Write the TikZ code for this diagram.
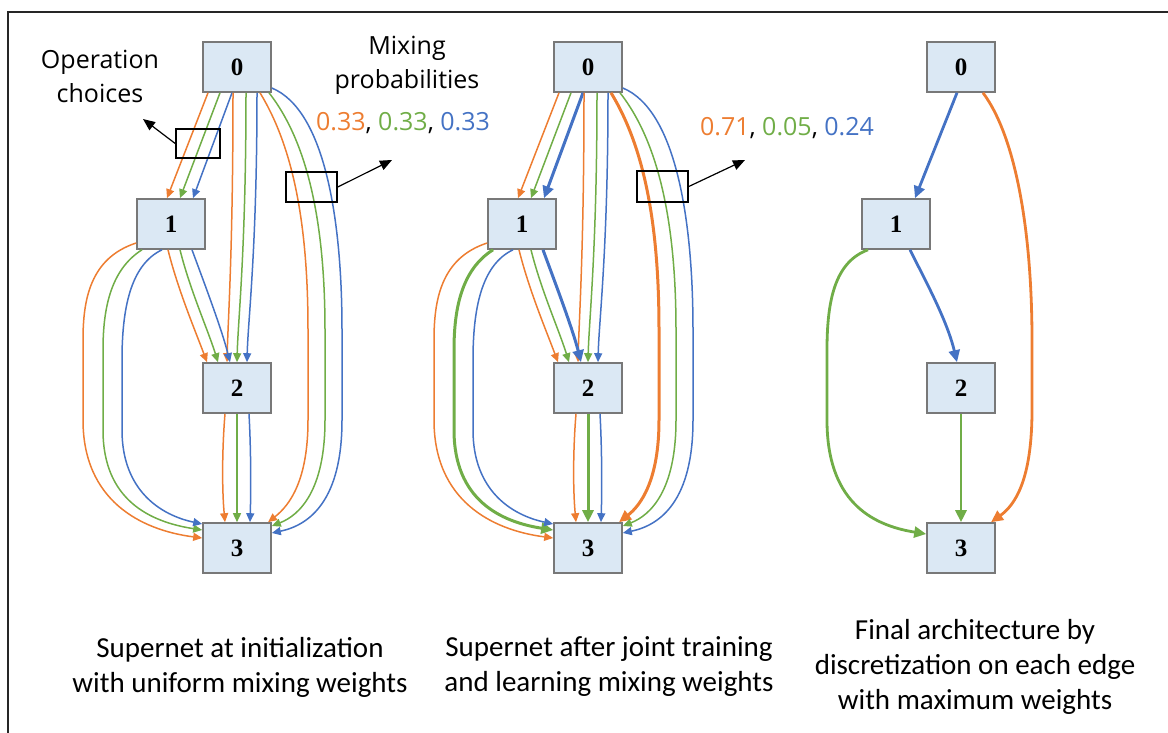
\documentclass[tikz,border=0pt]{standalone}
\usepackage{fontspec}
\setmainfont{Liberation Serif}
\newfontfamily\labelfont{Open Sans}
\newfontfamily\capfont{Carlito}
\usetikzlibrary{arrows.meta}

\definecolor{opO}{RGB}{237,125,49}
\definecolor{opG}{RGB}{112,173,71}
\definecolor{opB}{RGB}{68,114,196}
\definecolor{cellfill}{RGB}{219,232,244}
\definecolor{cellline}{RGB}{120,120,120}

\tikzset{
  cell/.style={draw=cellline, line width=1.6pt, fill=cellfill,
    minimum width=68pt, minimum height=50pt, inner sep=0pt,
    font=\bfseries\fontsize{25}{25}\selectfont},
  thinedge/.style={line width=1.5pt, -{Triangle[length=9pt,width=8pt]}},
  thickedge/.style={line width=3pt, -{Triangle[length=12pt,width=11pt]}},
  finaledge/.style={line width=2.8pt, -{Triangle[length=12pt,width=11pt]}},
  toplabel/.style={align=center, inner sep=0pt,
    font=\labelfont\fontsize{25}{34}\selectfont},
  caption/.style={align=center, inner sep=0pt,
    font=\capfont\fontsize{29}{35}\selectfont},
  callbox/.style={draw=black, line width=1.6pt, inner sep=0pt},
  callarrow/.style={draw=black, line width=1.2pt, -{Triangle[length=12pt,width=10pt]}},
  % per-edge weight hooks (empty by default)
  w01o/.style={}, w01g/.style={}, w01b/.style={},
  w02o/.style={}, w02g/.style={}, w02b/.style={},
  w03o/.style={}, w03g/.style={}, w03b/.style={},
  w12o/.style={}, w12g/.style={}, w12b/.style={},
  w13o/.style={}, w13g/.style={}, w13b/.style={},
  w23o/.style={}, w23g/.style={}, w23b/.style={},
}

% a four-cell supernet with three candidate operations on every edge
\newcommand\supernet[1]{%
  \node[cell] (#10) at (237,67) {0};
  \node[cell] (#11) at (171,224) {1};
  \node[cell] (#12) at (237,388) {2};
  \node[cell] (#13) at (237,548) {3};
  % 0 -> 1
  \draw[thinedge,opO,w01o] ([xshift=-29pt]#10.south) -- ([xshift=-4pt]#11.north);
  \draw[thinedge,opG,w01g] ([xshift=-17pt]#10.south) -- ([xshift=9pt]#11.north);
  \draw[thinedge,opB,w01b] ([xshift=-5pt]#10.south) -- ([xshift=22pt]#11.north);
  % 0 -> 2
  \draw[thinedge,opO,w02o] ([xshift=-4pt]#10.south) .. controls (233,250) and (228,320) .. ([xshift=-10pt]#12.north);
  \draw[thinedge,opG,w02g] ([xshift=9pt]#10.south) .. controls (246,250) and (238,320) .. (#12.north);
  \draw[thinedge,opB,w02b] ([xshift=20pt]#10.south) .. controls (257,250) and (248,320) .. ([xshift=10pt]#12.north);
  % 1 -> 2
  \draw[thinedge,opO,w12o] ([xshift=-3pt]#11.south) .. controls (178,290) and (195,330) .. ([xshift=-30pt]#12.north);
  \draw[thinedge,opG,w12g] ([xshift=9pt]#11.south) .. controls (190,290) and (208,330) .. ([xshift=-19pt]#12.north);
  \draw[thinedge,opB,w12b] ([xshift=21pt]#11.south) .. controls (205,285) and (222,330) .. ([xshift=-7pt]#12.north);
  % 1 -> 3
  \draw[thinedge,opO,w13o] ([yshift=-19pt]#11.west) .. controls (90,258) and (83,300) .. (83,340) -- (83,420) .. controls (83,500) and (140,530) .. ([yshift=10pt]#13.west);
  \draw[thinedge,opG,w13g] ([xshift=-29pt]#11.south) .. controls (110,270) and (103,310) .. (103,350) -- (103,430) .. controls (103,500) and (150,522) .. ([yshift=18pt]#13.west);
  \draw[thinedge,opB,w13b] ([xshift=-9pt]#11.south) .. controls (130,265) and (122,310) .. (122,360) -- (122,430) .. controls (122,490) and (160,515) .. ([yshift=24pt]#13.west);
  % 2 -> 3
  \draw[thinedge,opO,w23o] ([xshift=-12pt]#12.south) .. controls (222,450) and (222,490) .. ([xshift=-12pt]#13.north);
  \draw[thinedge,opG,w23g] (#12.south) -- (#13.north);
  \draw[thinedge,opB,w23b] ([xshift=12pt]#12.south) .. controls (251,450) and (251,490) .. ([xshift=13pt]#13.north);
  % 0 -> 3
  \draw[thinedge,opO,w03o] ([xshift=23pt]#10.south) .. controls (295,150) and (308,230) .. (308,330) -- (308,420) .. controls (308,480) and (290,505) .. ([xshift=31pt]#13.north);
  \draw[thinedge,opG,w03g] ([xshift=32pt]#10.south) .. controls (310,145) and (325,230) .. (325,330) -- (325,420) .. controls (325,490) and (300,515) .. ([yshift=22pt]#13.east);
  \draw[thinedge,opB,w03b] ([yshift=-21pt]#10.east) .. controls (325,110) and (342,220) .. (342,330) -- (342,420) .. controls (342,500) and (310,525) .. ([yshift=15pt]#13.east);
}

\begin{document}
\begin{tikzpicture}[x=1pt,y=-1pt]
\useasboundingbox (0,0) rectangle (1168,733);

% outer frame
\draw[line width=1.5pt, black!85] (1168,12) -- (8,12) -- (8,733);

% supernet at initialization
\begin{scope}
  \supernet{A}
\end{scope}

% supernet after training: heavier lines for the larger weights
\begin{scope}[shift={(351,0)},
    w01b/.style=thickedge, w03o/.style=thickedge, w12b/.style=thickedge,
    w13g/.style=thickedge, w23g/.style=thickedge]
  \supernet{B}
\end{scope}

% final discretized architecture
\node[cell] (C0) at (961,67) {0};
\node[cell] (C1) at (896,224) {1};
\node[cell] (C2) at (961,388) {2};
\node[cell] (C3) at (961,548) {3};
\draw[finaledge,opB] ([xshift=-4pt]C0.south) -- ([xshift=19pt]C1.north);
\draw[finaledge,opO] ([xshift=22pt]C0.south) .. controls (1018,140) and (1032,240) .. (1032,340) -- (1032,410) .. controls (1032,480) and (1015,505) .. ([xshift=30pt]C3.north);
\draw[finaledge,opB] ([xshift=14pt]C1.south) .. controls (925,280) and (947,320) .. ([xshift=-4pt]C2.north);
\draw[finaledge,opG] ([xshift=-28pt]C1.south) .. controls (835,262) and (827,300) .. (827,350) -- (827,420) .. controls (827,500) and (870,525) .. ([yshift=14pt]C3.west);
\draw[finaledge,opG] (C2.south) -- (C3.north);

% annotations
\node[toplabel] (opch) at (100,76) {Operation\\choices};
\node[toplabel] (mixp) at (407,65) {Mixing\\probabilities};
\node[toplabel] (probA) at (403,123) {\textcolor{opO}{0.33}, \textcolor{opG}{0.33}, \textcolor{opB}{0.33}};
\node[toplabel] (probB) at (787,128) {\textcolor{opO}{0.71}, \textcolor{opG}{0.05}, \textcolor{opB}{0.24}};

\node[callbox, minimum width=44pt, minimum height=29pt] (selA) at (198,143.5) {};
\coordinate (tipA) at (143,119);
\draw[callarrow] (selA.west) -- (tipA);

\node[callbox, minimum width=51pt, minimum height=30pt] (selB) at (311.5,187) {};
\coordinate (tipB) at (392,160);
\draw[callarrow] (selB.east) -- (tipB);

\node[callbox, minimum width=51pt, minimum height=31pt] (selC) at (662.5,186.5) {};
\coordinate (tipC) at (745,160);
\draw[callarrow] (selC.east) -- (tipC);

% captions
\node[caption] (capA) at (240,667) {Supernet at initialization\\with uniform mixing weights};
\node[caption] (capB) at (609,667) {Supernet after joint training\\and learning mixing weights};
\node[caption] (capC) at (975,667) {Final architecture by\\discretization on each edge\\with maximum weights};
\end{tikzpicture}
\end{document}
